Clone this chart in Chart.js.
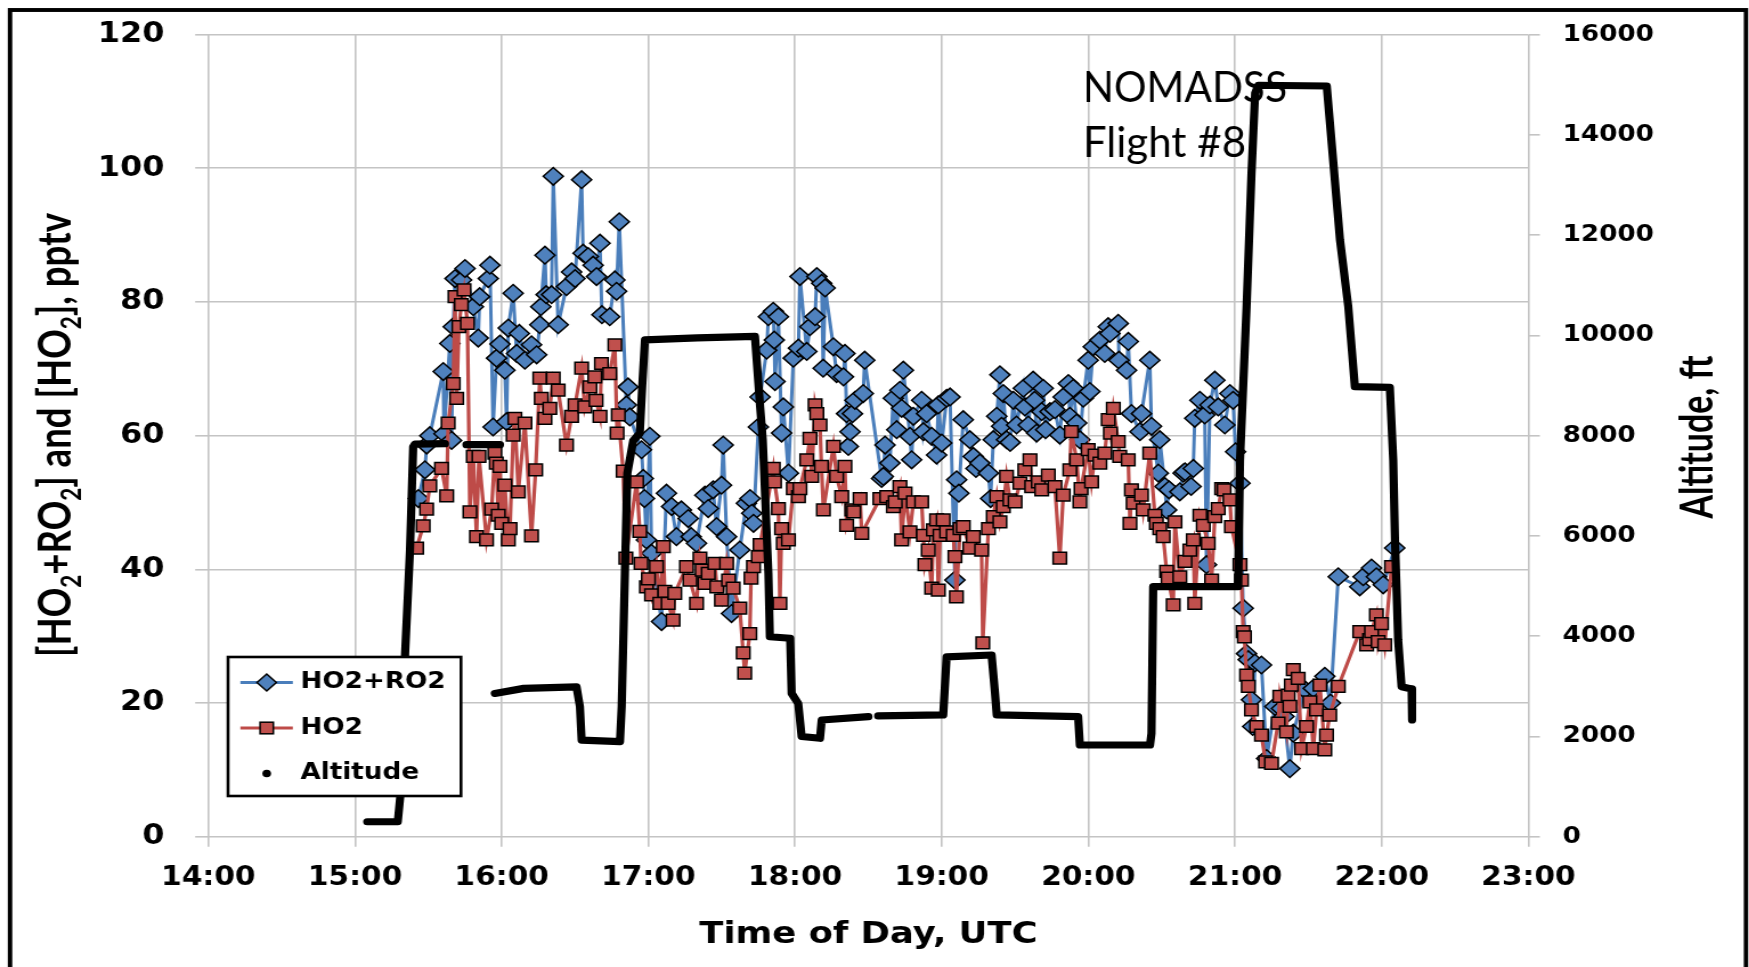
<!DOCTYPE html>
<html>
<head>
<meta charset="utf-8">
<title>NOMADSS Flight #8</title>
<script src="https://cdn.jsdelivr.net/npm/chart.js@4/dist/chart.umd.min.js"></script>
<style>
  html, body { margin: 0; padding: 0; background: #fff; overflow: hidden; }
  /* the canvas is drawn narrow and widened, like the original figure */
  #wrap { width: 1534px; height: 967px; transform: scaleX(1.1402); transform-origin: 0 0; }
  #chart { display: block; }
</style>
</head>
<body>
<div id="wrap"><canvas id="chart" width="1534" height="967" style="width:1534px;height:967px"></canvas></div>
<script>
// times are minutes after 00:00 UTC
const hourLabels = ["14:00", "15:00", "16:00", "17:00", "18:00", "19:00", "20:00", "21:00", "22:00", "23:00"];

// HO2+RO2, pptv
const sumTime = [
  925.9, 928.6, 929.3, 930.6, 936.1, 936.4, 938.8, 939.5, 940.2, 940.9, 943.6, 945.0, 948.4, 950.4, 951.0,
  954.5, 955.2, 956.5, 957.9, 959.3, 961.3, 962.0, 962.7, 964.7, 966.1, 967.2, 969.5, 972.2, 974.3, 975.6,
  976.0, 977.7, 978.2, 980.4, 981.1, 983.1, 986.5, 988.6, 990.0, 992.7, 993.3, 995.4, 997.4, 998.8, 1000.2,
  1001.0, 1004.2, 1006.3, 1007.0, 1008.1, 1011.0, 1011.7, 1012.4, 1017.2, 1017.9, 1018.4, 1019.2, 1020.6, 1021.3, 1025.4,
  1027.4, 1029.5, 1031.5, 1033.5, 1036.3, 1037.5, 1039.7, 1043.1, 1044.5, 1046.5, 1047.9, 1049.9, 1050.6, 1052.0, 1054.0,
  1057.4, 1060.1, 1061.6, 1062.3, 1063.0, 1065.0, 1065.7, 1068.4, 1069.1, 1071.1, 1071.5, 1071.8, 1073.2, 1074.5, 1075.2,
  1077.3, 1079.3, 1081.4, 1082.0, 1084.8, 1086.1, 1088.2, 1088.9, 1090.9, 1091.5, 1092.3, 1095.7, 1097.0, 1099.8, 1100.4,
  1101.1, 1101.8, 1102.5, 1103.5, 1104.5, 1107.9, 1108.5, 1115.4, 1116.1, 1116.8, 1118.8, 1120.2, 1121.6, 1122.9, 1123.6,
  1124.3, 1127.0, 1127.7, 1128.4, 1131.8, 1132.5, 1133.8, 1135.9, 1137.9, 1138.6, 1140.0, 1142.0, 1143.4, 1145.4, 1146.1,
  1147.0, 1148.8, 1151.5, 1152.9, 1154.0, 1155.6, 1159.1, 1160.0, 1161.1, 1162.5, 1163.8, 1164.5, 1165.2, 1166.5, 1168.0,
  1169.3, 1170.6, 1173.4, 1174.0, 1175.4, 1177.4, 1178.0, 1178.8, 1180.9, 1181.5, 1182.5, 1184.3, 1186.3, 1188.3, 1189.7,
  1191.8, 1192.4, 1193.8, 1195.2, 1196.5, 1197.9, 1199.9, 1200.6, 1202.0, 1204.7, 1206.7, 1208.1, 1208.8, 1212.2, 1212.5,
  1215.6, 1216.3, 1217.6, 1221.1, 1221.7, 1225.1, 1225.8, 1228.6, 1229.2, 1231.3, 1232.0, 1233.0, 1237.4, 1238.8, 1239.5,
  1242.0, 1242.9, 1243.5, 1245.6, 1247.6, 1248.3, 1249.7, 1251.7, 1253.1, 1255.8, 1257.9, 1259.2, 1260.2, 1262.0, 1263.3,
  1264.7, 1265.4, 1266.7, 1267.2, 1268.1, 1270.8, 1272.9, 1276.3, 1279.0, 1280.0, 1282.4, 1283.8, 1288.5, 1292.0, 1296.7,
  1299.0, 1302.2, 1311.0, 1312.4, 1315.8, 1317.8, 1320.6, 1325.3
];
const sumValue = [
  50.6, 54.9, 58.6, 60.0, 69.6, 60.3, 73.8, 59.3, 76.3, 83.5, 83.3, 85.0, 79.3, 74.6, 80.8,
  83.5, 85.5, 61.3, 71.6, 73.7, 69.8, 62.1, 76.1, 81.3, 72.3, 75.3, 71.3, 73.6, 72.1, 76.6,
  79.3, 87.0, 81.1, 81.1, 98.8, 76.6, 82.3, 84.5, 83.5, 98.3, 87.3, 86.8, 85.5, 83.8, 88.8,
  78.1, 77.8, 83.3, 81.6, 92.0, 64.6, 67.3, 62.8, 57.9, 53.6, 50.6, 44.4, 59.9, 42.4, 32.2,
  51.4, 49.4, 44.9, 48.9, 47.6, 44.9, 43.9, 51.1, 49.1, 51.9, 46.4, 52.6, 58.6, 44.9, 33.4,
  42.9, 49.9, 50.6, 48.4, 46.9, 61.3, 65.8, 72.8, 77.8, 78.6, 74.3, 68.1, 77.8, 60.4, 64.3,
  54.4, 71.6, 73.1, 83.8, 72.6, 76.3, 77.8, 83.8, 82.8, 70.1, 82.1, 73.3, 69.3, 68.8, 72.3,
  63.3, 58.4, 60.6, 63.3, 65.3, 66.3, 71.3, 53.6, 53.9, 58.6, 55.9, 65.6, 60.9, 66.8, 64.1,
  69.8, 59.9, 56.4, 62.9, 65.3, 60.6, 63.3, 59.9, 57.1, 64.6, 58.9, 65.6, 65.8, 38.4, 53.4,
  51.4, 62.4, 59.4, 56.9, 55.1, 55.9, 54.4, 50.6, 59.4, 62.9, 69.1, 61.4, 66.3, 59.4, 59.0,
  65.3, 61.6, 67.1, 64.3, 61.6, 68.3, 65.3, 60.4, 63.6, 67.1, 60.9, 63.6, 63.9, 60.1, 65.8,
  67.8, 62.9, 67.1, 61.9, 59.4, 65.6, 71.3, 66.6, 73.3, 74.3, 72.3, 76.3, 75.3, 76.8, 71.3,
  69.8, 74.1, 63.3, 60.6, 63.3, 71.3, 61.4, 54.4, 59.4, 52.4, 48.9, 51.9, 51.6, 54.4, 54.6,
  52.4, 55.1, 62.6, 65.3, 63.1, 40.7, 64.6, 68.3, 64.3, 61.6, 66.3, 65.3, 57.6, 52.9, 34.2,
  27.4, 26.5, 20.5, 16.5, 26.0, 25.7, 11.7, 19.5, 19.2, 18.0, 10.2, 15.5, 22.0, 22.2, 24.0,
  20.0, 38.9, 37.4, 38.9, 40.2, 38.9, 37.7, 43.2
];

// HO2, pptv
const ho2Time = [
  925.2, 927.9, 929.3, 930.6, 935.4, 937.5, 938.1, 940.2, 940.9, 941.6, 942.5, 943.5, 944.6, 946.0, 947.0,
  948.4, 949.7, 950.7, 953.8, 955.9, 957.2, 957.8, 958.6, 959.3, 960.0, 961.3, 962.7, 963.4, 964.7, 965.4,
  966.8, 969.5, 972.2, 973.9, 975.6, 976.2, 977.7, 979.7, 981.1, 983.1, 986.5, 988.6, 990.0, 992.7, 994.0,
  996.1, 998.1, 998.6, 1000.2, 1000.8, 1004.2, 1006.3, 1007.2, 1007.7, 1009.7, 1010.8, 1015.2, 1016.5, 1017.0, 1019.2,
  1020.0, 1021.3, 1023.3, 1024.7, 1026.1, 1026.7, 1028.1, 1030.1, 1030.8, 1035.6, 1037.0, 1039.7, 1041.1, 1042.0, 1043.1,
  1044.5, 1047.2, 1048.0, 1049.9, 1052.0, 1052.8, 1054.7, 1057.4, 1058.8, 1059.4, 1061.5, 1062.0, 1063.0, 1065.0, 1065.7,
  1071.1, 1071.6, 1073.2, 1073.8, 1074.5, 1075.2, 1077.3, 1079.3, 1081.4, 1082.0, 1084.8, 1086.1, 1086.8, 1088.2, 1088.9,
  1090.2, 1090.8, 1091.6, 1095.7, 1097.0, 1099.1, 1100.4, 1101.1, 1103.2, 1104.0, 1106.6, 1107.3, 1114.7, 1117.5, 1120.2,
  1121.0, 1122.9, 1123.6, 1125.0, 1127.0, 1128.4, 1131.8, 1132.5, 1133.1, 1134.5, 1135.9, 1136.6, 1137.9, 1138.6, 1139.3,
  1140.6, 1142.0, 1144.7, 1145.4, 1146.0, 1147.5, 1148.8, 1151.5, 1152.9, 1156.3, 1156.8, 1159.1, 1161.1, 1162.5, 1163.8,
  1165.2, 1166.5, 1167.9, 1170.0, 1172.0, 1174.0, 1176.1, 1176.8, 1179.5, 1180.9, 1183.6, 1186.3, 1188.3, 1189.7, 1192.4,
  1193.0, 1195.2, 1196.5, 1197.0, 1199.9, 1201.3, 1202.7, 1204.7, 1206.7, 1208.1, 1209.0, 1210.2, 1212.2, 1212.8, 1216.3,
  1217.0, 1217.6, 1218.3, 1221.7, 1222.4, 1225.1, 1227.2, 1227.8, 1229.2, 1230.6, 1232.0, 1232.6, 1234.7, 1235.4, 1237.4,
  1239.5, 1241.5, 1242.9, 1243.5, 1245.6, 1247.0, 1249.0, 1250.4, 1251.7, 1253.1, 1254.5, 1255.5, 1257.9, 1258.5, 1262.0,
  1262.6, 1263.3, 1263.8, 1264.7, 1265.4, 1266.7, 1268.8, 1270.8, 1272.5, 1274.9, 1277.6, 1278.3, 1281.0, 1281.7, 1282.4,
  1283.0, 1283.8, 1285.8, 1287.2, 1289.2, 1290.6, 1292.0, 1293.3, 1294.7, 1296.7, 1297.4, 1298.7, 1302.2, 1311.0, 1313.8,
  1315.0, 1315.8, 1317.8, 1318.5, 1319.9, 1321.2, 1324.0
];
const ho2Value = [
  43.2, 46.5, 49.0, 52.5, 55.1, 51.0, 61.9, 67.8, 80.8, 65.6, 76.3, 79.6, 81.8, 76.8, 48.6,
  56.9, 44.9, 56.9, 44.4, 49.0, 57.4, 55.9, 48.1, 55.4, 46.9, 52.6, 44.4, 46.1, 60.1, 62.6,
  51.6, 61.9, 45.0, 54.9, 68.6, 65.6, 62.6, 64.1, 68.6, 66.8, 58.6, 62.9, 64.6, 70.1, 64.3,
  67.3, 68.8, 65.3, 62.9, 70.8, 69.3, 73.6, 60.4, 63.1, 54.7, 41.7, 53.1, 45.7, 40.9, 37.4,
  38.6, 36.2, 40.4, 34.9, 43.4, 36.7, 34.9, 32.4, 36.4, 40.4, 38.4, 34.9, 41.7, 39.9, 37.9,
  39.4, 40.9, 37.4, 35.4, 40.9, 38.4, 37.2, 34.2, 27.5, 24.5, 30.4, 38.7, 40.4, 41.9, 43.7,
  55.1, 53.1, 49.1, 34.9, 46.1, 43.9, 44.4, 52.1, 50.9, 52.1, 56.4, 59.6, 53.9, 64.6, 63.3,
  61.6, 55.4, 48.9, 58.4, 53.9, 50.9, 55.4, 46.6, 48.9, 48.6, 50.6, 45.4, 50.6, 50.9, 49.4,
  50.1, 52.4, 44.4, 51.4, 45.6, 50.1, 50.1, 45.1, 40.7, 42.9, 37.2, 45.9, 47.4, 36.9, 45.1,
  47.4, 45.6, 45.1, 41.9, 35.9, 46.1, 46.4, 43.2, 44.9, 42.9, 29.0, 46.1, 47.9, 50.9, 47.1,
  49.4, 53.9, 50.4, 50.1, 52.9, 54.9, 56.4, 52.4, 53.1, 51.9, 54.1, 52.4, 41.7, 51.1, 54.9,
  60.6, 56.4, 50.1, 52.1, 57.9, 53.1, 57.1, 55.9, 57.4, 62.4, 60.4, 64.1, 59.1, 56.9, 56.4,
  46.9, 51.9, 49.9, 51.1, 48.9, 57.4, 48.1, 46.9, 46.1, 44.9, 39.7, 38.7, 34.7, 47.1, 38.9,
  41.2, 42.9, 44.4, 34.9, 48.1, 46.6, 43.9, 38.4, 47.9, 49.1, 52.1, 51.9, 50.4, 46.4, 40.7,
  38.4, 30.7, 29.9, 24.2, 22.5, 19.0, 16.5, 15.2, 11.2, 11.0, 17.0, 21.0, 15.7, 21.2, 19.5,
  22.7, 25.0, 23.7, 13.2, 16.5, 20.2, 13.2, 19.0, 22.7, 13.0, 15.2, 18.2, 22.5, 30.7, 28.7,
  29.5, 30.7, 33.2, 29.2, 31.9, 28.7, 40.4
];

// aircraft altitude, ft (null = no record)
const altTime = [
  905.0, 917.5, 918.5, 920.5, 922.5, 923.8, 924.5, 936.8, 936.9, 945.6, 959.3, 959.4,
  957.2, 969.0, 990.6, 992.0, 992.7, 1008.4, 1009.1, 1010.4, 1011.4, 1013.8, 1016.5, 1017.5, 1018.6,
  1040.0, 1063.6, 1065.7, 1066.8, 1069.1, 1069.7, 1078.0, 1078.6, 1081.3, 1082.7, 1090.2, 1090.9, 1110.0, 1110.1,
  1114.0, 1140.6, 1142.0, 1160.4, 1161.8, 1162.5, 1195.8, 1196.5, 1225.2, 1225.8, 1226.5, 1261.3, 1262.0,
  1264.7, 1266.7, 1268.2, 1269.5, 1297.5, 1302.9, 1306.3, 1309.0, 1323.3, 1324.7, 1325.4, 1326.7, 1328.1,
  1332.2, 1332.4
];
const altFeet = [
  300, 300, 800, 3660, 5720, 7780, 7830, 7840, null, 7820, 7820, null,
  2860, 2960, 2990, 2600, 1930, 1900, 2600, 5250, 7250, 7900, 8050, 9000, 9910,
  9950, 9980, 8580, 7915, 5256, 3990, 3960, 2860, 2660, 2000, 1965, 2330, 2396, null,
  2410, 2430, 3590, 3626, 2862, 2430, 2396, 1831, 1831, 2064, 4989, 4990, 7500,
  10570, 13230, 14830, 14990, 14975, 11905, 10573, 8978, 8965, 7500, 5920, 3925, 2994,
  2950, 2330
];

const pairs = (xs, ys) => xs.map((x, i) => ({ x: x, y: ys[i] }));

const BLUE = "#4F81BD";
const BLUE_LINE = "#4A7EBB";
const RED = "#C0504D";
const RED_LINE = "#BE4B48";
const GRID = "#c4c4c4";
const FONT = "DejaVu Sans";

// chart area in canvas units
const AREA = { left: 182.7, right: 1340.5, top: 34.6, bottom: 836.8 };

function diamond(ctx, x, y, r) {
  ctx.beginPath();
  ctx.moveTo(x - r, y);
  ctx.lineTo(x, y - r);
  ctx.lineTo(x + r, y);
  ctx.lineTo(x, y + r);
  ctx.closePath();
}

function drawLegend(ctx) {
  const box = { x: 200, y: 657, w: 204.3, h: 139 };
  ctx.save();
  ctx.fillStyle = "#fff";
  ctx.fillRect(box.x, box.y, box.w, box.h);
  ctx.lineWidth = 2.6;
  ctx.strokeStyle = "#000";
  ctx.strokeRect(box.x, box.y, box.w, box.h);

  const rows = [682.5, 728, 773.5];
  const x0 = 210.8, x1 = 256.8, xm = 233.9, tx = 263.5;

  ctx.lineWidth = 3;
  ctx.strokeStyle = BLUE_LINE;
  ctx.beginPath(); ctx.moveTo(x0, rows[0]); ctx.lineTo(x1, rows[0]); ctx.stroke();
  diamond(ctx, xm, rows[0], 8.5);
  ctx.fillStyle = BLUE; ctx.fill();
  ctx.lineWidth = 1.5; ctx.strokeStyle = "#000"; ctx.stroke();

  ctx.lineWidth = 3;
  ctx.strokeStyle = RED_LINE;
  ctx.beginPath(); ctx.moveTo(x0, rows[1]); ctx.lineTo(x1, rows[1]); ctx.stroke();
  ctx.fillStyle = RED;
  ctx.fillRect(xm - 5.8, rows[1] - 5.8, 11.6, 11.6);
  ctx.lineWidth = 1.5; ctx.strokeStyle = "#000";
  ctx.strokeRect(xm - 5.8, rows[1] - 5.8, 11.6, 11.6);

  ctx.fillStyle = "#000";
  ctx.beginPath(); ctx.arc(xm, rows[2], 3.8, 0, Math.PI * 2); ctx.fill();

  ctx.font = `bold 23px "${FONT}"`;
  ctx.textBaseline = "middle";
  ctx.textAlign = "left";
  ctx.fillText("HO2+RO2", tx, rows[0]);
  ctx.fillText("HO2", tx, rows[1]);
  ctx.fillText("Altitude", tx, rows[2]);
  ctx.restore();
}

// text squeezed or widened to a given width
function fitText(ctx, text, x, y, width) {
  const w = ctx.measureText(text).width;
  ctx.save();
  ctx.translate(x, y);
  ctx.scale(width / w, 1);
  ctx.fillText(text, 0, 0);
  ctx.restore();
}

// vertical axis title, reading bottom to top, with subscripts
function drawAxisTitle(ctx, parts, baseX, midY, size, length) {
  const main = `bold ${size}px Lato`;
  const small = `bold ${Math.round(size * 0.62)}px Lato`;
  ctx.save();
  ctx.translate(baseX, midY);
  ctx.rotate(-Math.PI / 2);
  let total = 0;
  for (const [t, sub] of parts) {
    ctx.font = sub ? small : main;
    total += ctx.measureText(t).width;
  }
  ctx.scale(length / total, 1);
  ctx.fillStyle = "#000";
  ctx.textBaseline = "alphabetic";
  let x = -total / 2;
  for (const [t, sub] of parts) {
    ctx.font = sub ? small : main;
    ctx.fillText(t, x, sub ? size * 0.2 : 0);
    x += ctx.measureText(t).width;
  }
  ctx.restore();
}

const decor = {
  id: "decor",
  beforeDraw(chart) {
    const ctx = chart.ctx;
    ctx.save();
    ctx.fillStyle = "#fff";
    ctx.fillRect(0, 0, chart.width, chart.height);
    ctx.restore();
  },
  afterDatasetsDraw(chart) {
    const ctx = chart.ctx;
    ctx.save();
    ctx.fillStyle = "#000";
    ctx.font = "42px Lato";
    ctx.textBaseline = "alphabetic";
    fitText(ctx, "NOMADSS", 949.8, 102, 179);
    fitText(ctx, "Flight #8", 949.8, 157, 143);
    ctx.restore();
    drawLegend(ctx);
  },
  afterDraw(chart) {
    const ctx = chart.ctx;
    drawAxisTitle(ctx, [["[HO", false], ["2", true], ["+RO", false], ["2", true],
      ["] and [HO", false], ["2", true], ["], pptv", false]], 62.3, 435, 41, 444);
    drawAxisTitle(ctx, [["Altitude, ft", false]], 1501.5, 437, 40, 163);
    ctx.save();
    ctx.lineWidth = 3.9;
    ctx.strokeStyle = "#000";
    ctx.strokeRect(8.8, 10, 1531.3 - 8.8, 1000);
    ctx.restore();
  }
};

const grid = { color: GRID, lineWidth: 1.6, drawTicks: true };

// vertical axes: fixed width, no extra room above the top label
const fixVertical = (w) => (s) => { s.width = w; s.paddingTop = 0; s.paddingBottom = 0; };

new Chart(document.getElementById("chart"), {
  type: "line",
  data: {
    datasets: [
      {
        label: "HO2+RO2",
        data: pairs(sumTime, sumValue),
        yAxisID: "y",
        order: 2,
        borderColor: BLUE_LINE,
        borderWidth: 3,
        pointStyle: "rectRot",
        pointRadius: 8.8,
        pointBackgroundColor: BLUE,
        pointBorderColor: "#000",
        pointBorderWidth: 1.5,
        tension: 0,
      },
      {
        label: "HO2",
        data: pairs(ho2Time, ho2Value),
        yAxisID: "y",
        order: 1,
        borderColor: RED_LINE,
        borderWidth: 3.2,
        pointStyle: "rect",
        pointRadius: 8.3,
        pointBackgroundColor: RED,
        pointBorderColor: "#000",
        pointBorderWidth: 1.5,
        tension: 0,
      },
      {
        label: "Altitude",
        data: pairs(altTime, altFeet),
        yAxisID: "alt",
        order: 0,
        borderColor: "#000",
        borderWidth: 7.2,
        borderJoinStyle: "round",
        borderCapStyle: "round",
        pointRadius: 0,
        spanGaps: false,
        tension: 0,
      },
    ],
  },
  options: {
    responsive: false,
    animation: false,
    devicePixelRatio: 1,
    events: [],
    layout: { padding: { top: AREA.top, left: 0, right: 0, bottom: 0 } },
    plugins: { legend: { display: false }, tooltip: { enabled: false } },
    scales: {
      x: {
        type: "linear",
        min: 840,
        max: 1380,
        grid: { ...grid, tickLength: 10 },
        border: { display: false },
        ticks: {
          stepSize: 60,
          autoSkip: false,
          maxRotation: 0,
          padding: 16,
          color: "#000",
          font: { family: FONT, size: 26, weight: "bold" },
          callback: (v) => hourLabels[Math.round((v - 840) / 60)],
        },
        title: {
          display: true,
          text: "Time of Day, UTC",
          color: "#000",
          font: { family: FONT, size: 31, weight: "bold" },
          padding: { top: 0, bottom: 13 },
        },
        afterFit: (s) => { s.height = 967 - AREA.bottom; },
      },
      y: {
        position: "left",
        min: 0,
        max: 120,
        grid: { ...grid, tickLength: 11.5 },
        border: { display: false },
        ticks: {
          stepSize: 20,
          padding: 27,
          color: "#000",
          font: { family: FONT, size: 28, weight: "bold" },
          callback: (v) => String(v),
        },
        afterFit: fixVertical(AREA.left),
      },
      alt: {
        position: "right",
        min: 0,
        max: 16000,
        grid: { ...grid, tickLength: 10, drawOnChartArea: false },
        border: { display: false },
        ticks: {
          stepSize: 2000,
          padding: 20,
          color: "#000",
          font: { family: FONT, size: 23, weight: "bold" },
          callback: (v) => String(v),
        },
        afterFit: fixVertical(1534 - AREA.right),
      },
    },
  },
  plugins: [decor],
});
</script>
</body>
</html>
